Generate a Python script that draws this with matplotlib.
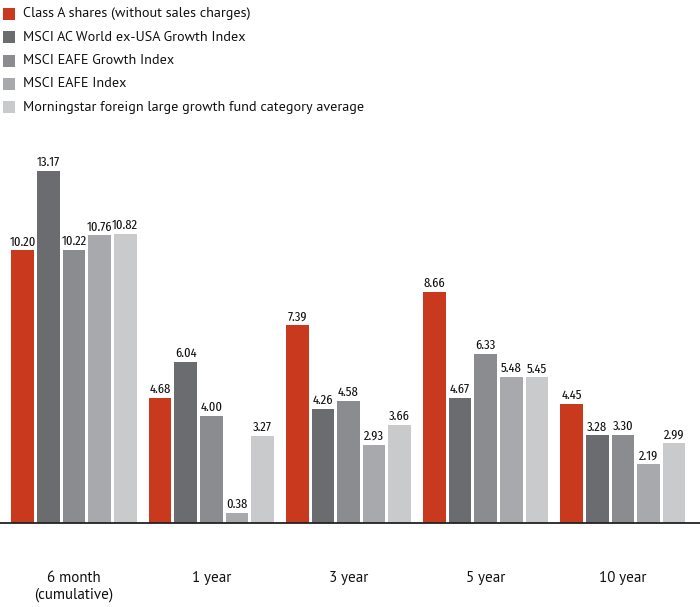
import matplotlib
matplotlib.use("Agg")
import matplotlib.pyplot as plt
from matplotlib.patches import Rectangle

categories = ["6 month\n(cumulative)", "1 year", "3 year", "5 year", "10 year"]
series_names = [
    "Class A shares (without sales charges)",
    "MSCI AC World ex-USA Growth Index",
    "MSCI EAFE Growth Index",
    "MSCI EAFE Index",
    "Morningstar foreign large growth fund category average",
]
class_a = [10.20, 4.68, 7.39, 8.66, 4.45]
acwi_growth = [13.17, 6.04, 4.26, 4.67, 3.28]
eafe_growth = [10.22, 4.00, 4.58, 6.33, 3.30]
eafe = [10.76, 0.38, 2.93, 5.48, 2.19]
morningstar = [10.82, 3.27, 3.66, 5.45, 2.99]
series = [class_a, acwi_growth, eafe_growth, eafe, morningstar]
colors = ["#C8391E", "#6B6C70", "#8B8C8F", "#A8A9AC", "#C9CACC"]

narrow = ["Fira Sans Extra Condensed", "Roboto Condensed", "DejaVu Sans"]
body = ["PT Sans", "DejaVu Sans"]

W, H = 700, 607
fig = plt.figure(figsize=(W / 100, H / 100), dpi=100)
base_px = 523
top_px = 140
ax = fig.add_axes([0, (H - base_px) / H, 1, (base_px - top_px) / H])
spacing = 137.2
c0 = 74.0
ax.set_xlim(-c0 / spacing, (W - c0) / spacing)
ax.set_ylim(0, (base_px - top_px) / 26.73)

pitch = 25.6 / spacing
width = 22.6 / spacing
for s, (vals, col) in enumerate(zip(series, colors)):
    for i, v in enumerate(vals):
        x = i + (s - 2) * pitch
        ax.bar(x, v, width=width, color=col, linewidth=0)
        ax.annotate(f"{v:.2f}", (x, v), xytext=(0, 1.5), textcoords="offset points",
                    ha="center", va="bottom", fontsize=9.8, family=narrow,
                    fontweight="normal", color="#111111")

for sp in ax.spines.values():
    sp.set_visible(False)
ax.axhline(0, color="#222222", linewidth=1.3, clip_on=False)
ax.set_xticks([])
ax.set_yticks([])
ax.patch.set_alpha(0)

for i, c in enumerate(categories):
    xp = (c0 + i * spacing) / W
    fig.text(xp, 1 - 571 / H, c, ha="center", va="top", fontsize=10.8,
             family=body, fontweight="normal", color="#111111", linespacing=1.2)

# legend
for k, (name, col) in enumerate(zip(series_names, colors)):
    yc = 14 + k * 23.3
    fig.patches.append(Rectangle((3 / W, 1 - (yc + 6) / H), 12 / W, 12 / H,
                                 transform=fig.transFigure, color=col, linewidth=0))
    fig.text(23 / W, 1 - yc / H, name, ha="left", va="center", fontsize=10.2,
             family=body, fontweight="normal", color="#111111")

fig.savefig("out.png", dpi=100)
